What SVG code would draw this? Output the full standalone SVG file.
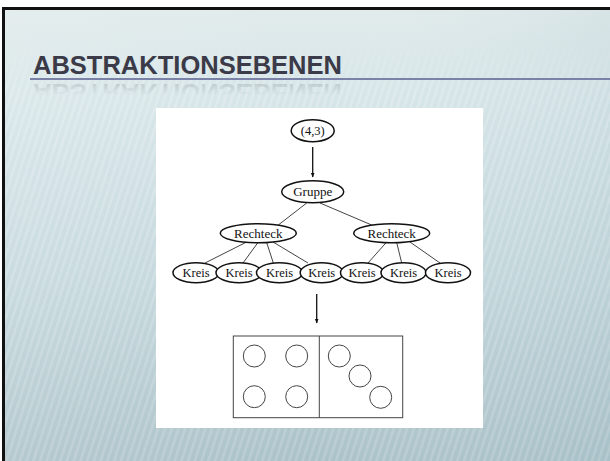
<svg xmlns="http://www.w3.org/2000/svg" width="610" height="461" viewBox="0 0 610 461">
<defs>
<linearGradient id="bg" x1="0" y1="0" x2="0" y2="1">
<stop offset="0" stop-color="#e1ebec"/>
<stop offset="0.2" stop-color="#d6e5e8"/>
<stop offset="0.6" stop-color="#c3d7dc"/>
<stop offset="1" stop-color="#abc2c9"/>
</linearGradient>
<linearGradient id="side" x1="0" y1="0" x2="1" y2="0">
<stop offset="0" stop-color="#ffffff" stop-opacity="0.12"/>
<stop offset="0.5" stop-color="#ffffff" stop-opacity="0"/>
<stop offset="1" stop-color="#8fb0b9" stop-opacity="0.12"/>
</linearGradient>
<pattern id="stripes" width="6.4" height="20" patternUnits="userSpaceOnUse" patternTransform="rotate(18)">
<rect x="0" y="0" width="2.6" height="20" fill="#ffffff" fill-opacity="0.2"/>
</pattern>
<linearGradient id="stripeFade" x1="0" y1="0" x2="0" y2="1">
<stop offset="0" stop-color="#fff" stop-opacity="0"/>
<stop offset="0.08" stop-color="#fff" stop-opacity="0"/>
<stop offset="0.2" stop-color="#fff" stop-opacity="1"/>
<stop offset="1" stop-color="#fff" stop-opacity="0.8"/>
</linearGradient>
<mask id="stripeMask"><rect x="0" y="0" width="610" height="461" fill="url(#stripeFade)"/></mask>
<linearGradient id="reflFade" x1="0" y1="0" x2="0" y2="1">
<stop offset="0" stop-color="#fff" stop-opacity="0.22"/>
<stop offset="1" stop-color="#fff" stop-opacity="0"/>
</linearGradient>
<mask id="reflMask"><rect x="20" y="79" width="340" height="16" fill="url(#reflFade)"/></mask>
<marker id="arr" viewBox="0 0 10 10" refX="9" refY="5" markerWidth="5" markerHeight="5" orient="auto" markerUnits="userSpaceOnUse">
<path d="M0,1 L10,5 L0,9 z" fill="#111"/>
</marker>
<style>
.title{font-family:"Liberation Sans",Arial,sans-serif;font-weight:bold;font-size:26px;fill:#3a3a48}
.node ellipse{fill:#fff;stroke:#111;stroke-width:1.5}
.node text{font-family:"Liberation Serif","Times New Roman",serif;font-size:12.5px;fill:#111;text-anchor:middle}
.edge{stroke:#444;stroke-width:1;fill:none}
.arrow{stroke:#111;stroke-width:1.3;fill:none;marker-end:url(#arr)}
.pic{fill:none;stroke:#444;stroke-width:1}
</style>
</defs>

<!-- slide frame -->
<rect x="0" y="0" width="610" height="461" fill="#ffffff"/>
<rect x="2" y="7" width="608" height="454" fill="#111"/>
<rect x="5" y="10" width="605" height="451" fill="url(#bg)"/>
<rect x="5" y="10" width="605" height="451" fill="url(#side)"/>
<rect x="5" y="10" width="605" height="451" fill="url(#stripes)" mask="url(#stripeMask)"/>

<!-- title -->
<line x1="30" y1="79" x2="610" y2="79" stroke="#7b82a8" stroke-width="2"/>
<text class="title" x="33" y="74" textLength="309" lengthAdjust="spacingAndGlyphs">ABSTRAKTIONSEBENEN</text>
<g mask="url(#reflMask)">
<text class="title" x="33" y="-84" textLength="309" lengthAdjust="spacingAndGlyphs" transform="scale(1,-1)">ABSTRAKTIONSEBENEN</text>
</g>

<!-- picture area -->
<rect x="156" y="108" width="327" height="320" fill="#ffffff"/>

<!-- connectors -->
<g id="connectors">
<line class="arrow" x1="312.7" y1="147" x2="312.7" y2="177"/>
<line class="edge" x1="306.7" y1="203" x2="278.3" y2="225"/>
<line class="edge" x1="320" y1="203" x2="371.7" y2="225"/>
<line class="edge" x1="246.7" y1="242" x2="205" y2="263"/>
<line class="edge" x1="258" y1="242.5" x2="243" y2="263"/>
<line class="edge" x1="266.7" y1="242.5" x2="273.3" y2="263"/>
<line class="edge" x1="273" y1="242" x2="308" y2="263"/>
<line class="edge" x1="386.7" y1="242" x2="368" y2="263"/>
<line class="edge" x1="396.7" y1="242.5" x2="401.7" y2="263"/>
<line class="edge" x1="410" y1="242" x2="440" y2="263"/>
<line class="arrow" x1="316.7" y1="294" x2="316.7" y2="323"/>
</g>

<!-- nodes -->
<g id="n-root" class="node"><ellipse cx="312.7" cy="130.7" rx="21.5" ry="11"/><text x="312.7" y="135">(4,3)</text></g>
<g id="n-gruppe" class="node"><ellipse cx="312.7" cy="191.7" rx="31" ry="11"/><text x="312.7" y="196" style="font-size:13px">Gruppe</text></g>
<g id="n-rechteck1" class="node"><ellipse cx="258.3" cy="233.3" rx="38" ry="9.5"/><text x="258.3" y="237.6" style="font-size:13px">Rechteck</text></g>
<g id="n-rechteck2" class="node"><ellipse cx="391.7" cy="233.3" rx="38" ry="9.5"/><text x="391.7" y="237.6" style="font-size:13px">Rechteck</text></g>
<g id="n-kreis1" class="node"><ellipse cx="196" cy="272.7" rx="23" ry="10"/><text x="196" y="277">Kreis</text></g>
<g id="n-kreis2" class="node"><ellipse cx="239" cy="272.7" rx="23" ry="10"/><text x="239" y="277">Kreis</text></g>
<g id="n-kreis3" class="node"><ellipse cx="279.5" cy="272.7" rx="23" ry="10"/><text x="279.5" y="277">Kreis</text></g>
<g id="n-kreis4" class="node"><ellipse cx="321.7" cy="272.7" rx="21.5" ry="10"/><text x="321.7" y="277">Kreis</text></g>
<g id="n-kreis5" class="node"><ellipse cx="362" cy="272.7" rx="21.5" ry="10"/><text x="362" y="277">Kreis</text></g>
<g id="n-kreis6" class="node"><ellipse cx="403.5" cy="272.7" rx="22.5" ry="10"/><text x="403.5" y="277">Kreis</text></g>
<g id="n-kreis7" class="node"><ellipse cx="448" cy="272.7" rx="22.5" ry="10"/><text x="448" y="277">Kreis</text></g>

<!-- rendered picture -->
<g id="n-picture">
<rect class="pic" x="233.3" y="336" width="169.4" height="81.7"/>
<line class="pic" x1="319.3" y1="336" x2="319.3" y2="417.7"/>
<circle class="pic" cx="254.3" cy="356" r="11"/>
<circle class="pic" cx="296.7" cy="356" r="11"/>
<circle class="pic" cx="254.3" cy="396.7" r="11"/>
<circle class="pic" cx="296.7" cy="396.7" r="11"/>
<circle class="pic" cx="339.3" cy="356" r="11"/>
<circle class="pic" cx="360" cy="376" r="11"/>
<circle class="pic" cx="380.7" cy="397.3" r="11"/>
</g>
</svg>
